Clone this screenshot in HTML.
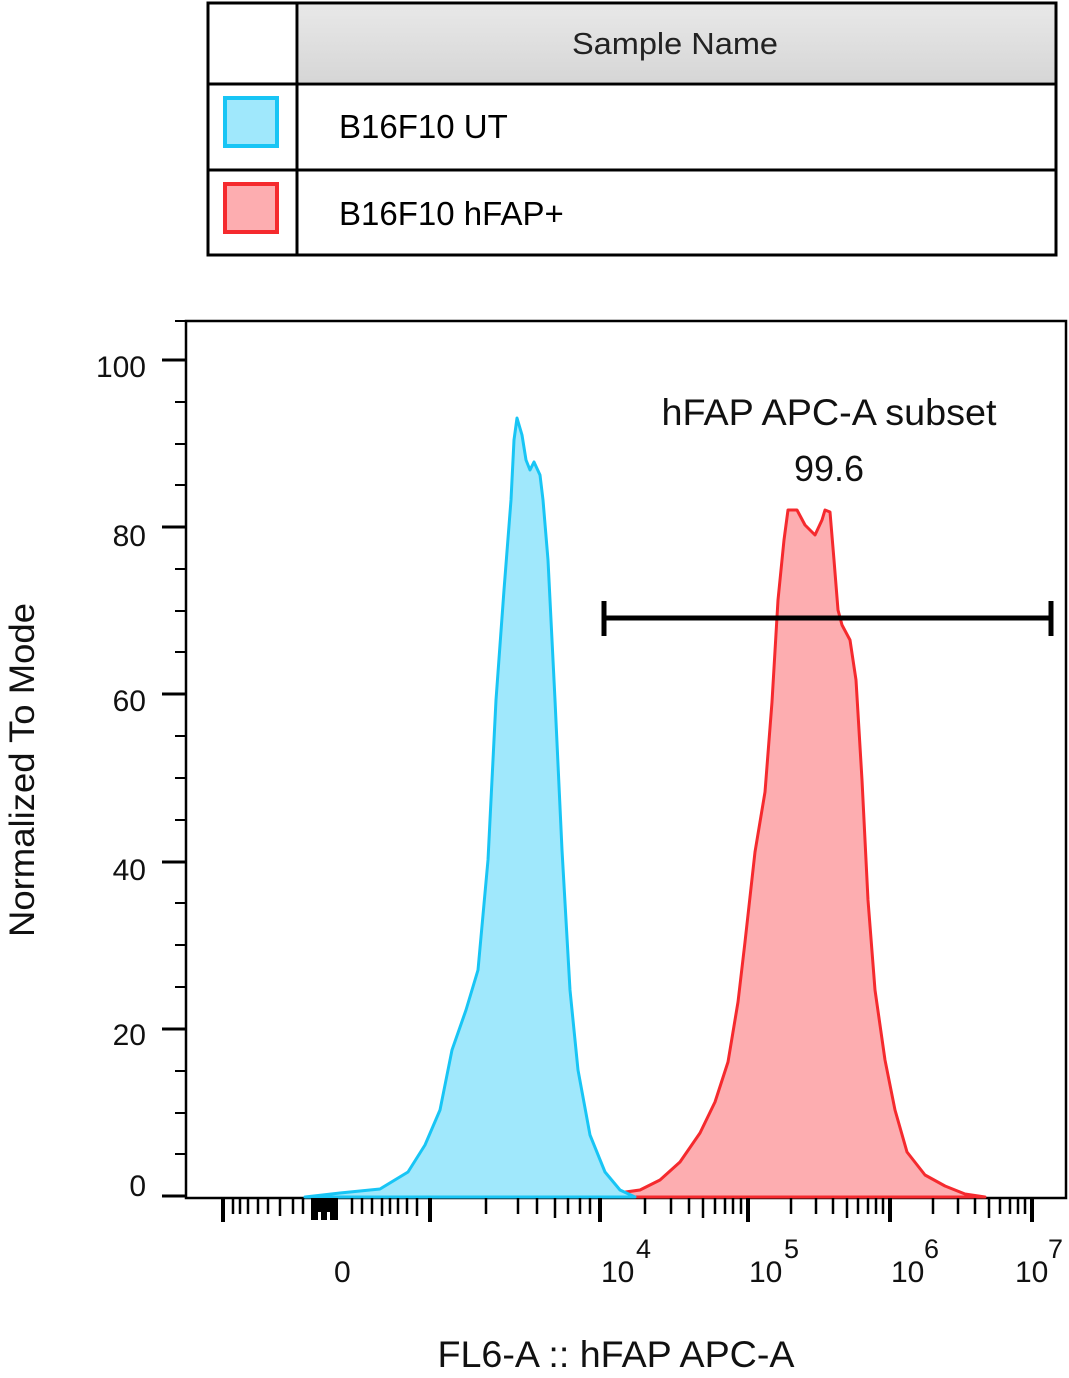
<!DOCTYPE html>
<html><head><meta charset="utf-8"><style>
body{margin:0;background:#fff;}
svg{display:block;font-family:"Liberation Sans",sans-serif;}
</style></head><body>
<svg width="1069" height="1378" viewBox="0 0 1069 1378" xmlns="http://www.w3.org/2000/svg">
<defs><linearGradient id="hg" x1="0" y1="0" x2="0" y2="1"><stop offset="0" stop-color="#e8e8e8"/><stop offset="1" stop-color="#d6d6d6"/></linearGradient></defs>
<rect x="299" y="5" width="756" height="77" fill="url(#hg)"/>
<rect x="208" y="3" width="848" height="252" fill="none" stroke="#000" stroke-width="3"/>
<line x1="297" y1="3" x2="297" y2="255" stroke="#000" stroke-width="3"/>
<line x1="208" y1="84" x2="1056" y2="84" stroke="#000" stroke-width="3"/>
<line x1="208" y1="170" x2="1056" y2="170" stroke="#000" stroke-width="3"/>
<text x="675" y="54" font-size="31" text-anchor="middle" fill="#222" textLength="206" lengthAdjust="spacingAndGlyphs">Sample Name</text>
<rect x="225" y="98" width="52" height="48" fill="#a0e8fc" stroke="#18c5f5" stroke-width="4"/>
<rect x="225" y="184" width="52" height="48" fill="#fdadb0" stroke="#f52a2e" stroke-width="4"/>
<text x="339" y="138" font-size="33" fill="#000">B16F10 UT</text>
<text x="339" y="225" font-size="33" fill="#000">B16F10 hFAP+</text>
<rect x="186" y="321" width="880" height="877" fill="none" stroke="#000" stroke-width="2.5"/>
<path d="M590,1197 L640,1190 L660,1180 L680,1162 L700,1133 L715,1102 L728,1062 L738,1002 L745,942 L755,852 L765,792 L772,702 L778,600 L784,540 L788,510 L797,510 L805,525 L815,535 L822,520 L825,510 L830,512 L834,560 L838,610 L842,625 L850,640 L856,680 L862,780 L868,900 L875,990 L885,1060 L895,1110 L907,1152 L925,1175 L945,1186 L965,1194 L985,1197 Z" fill="#fdadb0" stroke="#f52a2e" stroke-width="3" stroke-linejoin="round"/>
<path d="M305,1197 L340,1193 L380,1189 L408,1172 L425,1145 L440,1110 L452,1050 L466,1010 L478,970 L488,860 L496,700 L504,590 L511,500 L514,440 L517,418 L522,435 L526,460 L530,470 L534,462 L540,475 L543,500 L548,560 L555,700 L562,850 L570,990 L578,1070 L590,1135 L605,1172 L620,1190 L635,1197 Z" fill="#a0e8fc" stroke="#18c5f5" stroke-width="3" stroke-linejoin="round"/>
<line x1="604" y1="618" x2="1051" y2="618" stroke="#000" stroke-width="5"/>
<line x1="604" y1="601" x2="604" y2="636" stroke="#000" stroke-width="5"/>
<line x1="1051" y1="601" x2="1051" y2="636" stroke="#000" stroke-width="5"/>
<text x="829" y="425" font-size="37" text-anchor="middle" fill="#111" textLength="335" lengthAdjust="spacingAndGlyphs">hFAP APC-A subset</text>
<text x="829" y="481" font-size="36" text-anchor="middle" fill="#111">99.6</text>
<g stroke="#000" stroke-width="3">
<line x1="162" y1="1196" x2="186" y2="1196"/><line x1="162" y1="1029" x2="186" y2="1029"/><line x1="162" y1="862" x2="186" y2="862"/><line x1="162" y1="694" x2="186" y2="694"/><line x1="162" y1="527" x2="186" y2="527"/><line x1="162" y1="360" x2="186" y2="360"/>
</g>
<g stroke="#000" stroke-width="2">
<line x1="175" y1="1154" x2="186" y2="1154"/><line x1="175" y1="1113" x2="186" y2="1113"/><line x1="175" y1="1071" x2="186" y2="1071"/>
<line x1="175" y1="987" x2="186" y2="987"/><line x1="175" y1="945" x2="186" y2="945"/><line x1="175" y1="903" x2="186" y2="903"/>
<line x1="175" y1="820" x2="186" y2="820"/><line x1="175" y1="778" x2="186" y2="778"/><line x1="175" y1="736" x2="186" y2="736"/>
<line x1="175" y1="652" x2="186" y2="652"/><line x1="175" y1="611" x2="186" y2="611"/><line x1="175" y1="569" x2="186" y2="569"/>
<line x1="175" y1="485" x2="186" y2="485"/><line x1="175" y1="444" x2="186" y2="444"/><line x1="175" y1="402" x2="186" y2="402"/>
<line x1="175" y1="321" x2="186" y2="321"/>
</g>
<g font-size="30" text-anchor="end" fill="#111">
<text x="146" y="377">100</text><text x="146" y="546">80</text><text x="146" y="711">60</text><text x="146" y="880">40</text><text x="146" y="1045">20</text><text x="146" y="1196">0</text>
</g>
<text transform="translate(34,770) rotate(-90)" font-size="35" text-anchor="middle" fill="#111" textLength="334" lengthAdjust="spacingAndGlyphs">Normalized To Mode</text>
<g stroke="#000" stroke-width="4">
<line x1="223" y1="1198" x2="223" y2="1222"/><line x1="430" y1="1198" x2="430" y2="1222"/><line x1="600" y1="1198" x2="600" y2="1222"/><line x1="748" y1="1198" x2="748" y2="1222"/><line x1="890" y1="1198" x2="890" y2="1222"/><line x1="1032" y1="1198" x2="1032" y2="1222"/>
</g>
<g stroke="#000" stroke-width="2.5">
<line x1="233" y1="1198" x2="233" y2="1214"/><line x1="240" y1="1198" x2="240" y2="1214"/><line x1="248" y1="1198" x2="248" y2="1214"/><line x1="258" y1="1198" x2="258" y2="1214"/><line x1="268" y1="1198" x2="268" y2="1214"/><line x1="280" y1="1198" x2="280" y2="1216"/><line x1="293" y1="1198" x2="293" y2="1214"/><line x1="303" y1="1198" x2="303" y2="1214"/>
<line x1="352" y1="1198" x2="352" y2="1214"/><line x1="362" y1="1198" x2="362" y2="1214"/><line x1="372" y1="1198" x2="372" y2="1214"/><line x1="382" y1="1198" x2="382" y2="1216"/><line x1="390" y1="1198" x2="390" y2="1214"/><line x1="398" y1="1198" x2="398" y2="1214"/><line x1="407" y1="1198" x2="407" y2="1214"/><line x1="417" y1="1198" x2="417" y2="1216"/>
<line x1="486" y1="1198" x2="486" y2="1214"/><line x1="518" y1="1198" x2="518" y2="1214"/><line x1="537" y1="1198" x2="537" y2="1214"/><line x1="555" y1="1198" x2="555" y2="1218"/><line x1="568" y1="1198" x2="568" y2="1214"/><line x1="580" y1="1198" x2="580" y2="1214"/><line x1="590" y1="1198" x2="590" y2="1214"/>
<line x1="645" y1="1198" x2="645" y2="1214"/><line x1="671" y1="1198" x2="671" y2="1214"/><line x1="689" y1="1198" x2="689" y2="1214"/><line x1="703" y1="1198" x2="703" y2="1218"/><line x1="715" y1="1198" x2="715" y2="1214"/><line x1="725" y1="1198" x2="725" y2="1214"/><line x1="733" y1="1198" x2="733" y2="1214"/><line x1="741" y1="1198" x2="741" y2="1214"/>
<line x1="791" y1="1198" x2="791" y2="1214"/><line x1="816" y1="1198" x2="816" y2="1214"/><line x1="833" y1="1198" x2="833" y2="1214"/><line x1="847" y1="1198" x2="847" y2="1218"/><line x1="858" y1="1198" x2="858" y2="1214"/><line x1="868" y1="1198" x2="868" y2="1214"/><line x1="876" y1="1198" x2="876" y2="1214"/><line x1="883" y1="1198" x2="883" y2="1214"/>
<line x1="933" y1="1198" x2="933" y2="1214"/><line x1="958" y1="1198" x2="958" y2="1214"/><line x1="975" y1="1198" x2="975" y2="1214"/><line x1="989" y1="1198" x2="989" y2="1218"/><line x1="1000" y1="1198" x2="1000" y2="1214"/><line x1="1010" y1="1198" x2="1010" y2="1214"/><line x1="1018" y1="1198" x2="1018" y2="1214"/><line x1="1025" y1="1198" x2="1025" y2="1214"/>
</g>
<rect x="311" y="1198" width="27" height="22" fill="#000"/>
<rect x="318" y="1212" width="3" height="8" fill="#fff"/><rect x="327" y="1212" width="3" height="8" fill="#fff"/>
<g font-size="30" fill="#111">
<text x="334" y="1282">0</text>
<text x="601" y="1282">10</text><text x="636" y="1258" font-size="27">4</text>
<text x="749" y="1282">10</text><text x="784" y="1258" font-size="27">5</text>
<text x="891" y="1282">10</text><text x="924" y="1258" font-size="27">6</text>
<text x="1015" y="1282">10</text><text x="1048" y="1258" font-size="27">7</text>
</g>
<text x="616" y="1367" font-size="37" text-anchor="middle" fill="#111" textLength="357" lengthAdjust="spacingAndGlyphs">FL6-A :: hFAP APC-A</text>
</svg>
</body></html>
